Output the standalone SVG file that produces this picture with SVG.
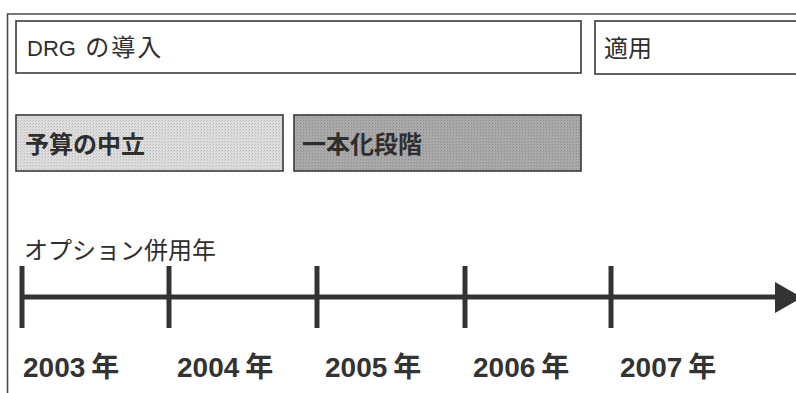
<svg xmlns="http://www.w3.org/2000/svg" width="796" height="393" viewBox="0 0 796 393">
<style>
  .frame { fill: none; stroke: #4a4a4a; stroke-width: 1.6; }
  .box { stroke: #3a3a3a; stroke-width: 1.6; }
  .lbl { font-family: "Liberation Sans", "Noto Sans CJK JP", sans-serif; fill: #2e2e2e; }
  .cjk { font-family: "Noto Sans CJK JP", sans-serif; }
  .year { font-family: "Liberation Sans", "Noto Sans CJK JP", sans-serif; font-weight: bold; font-size: 28px; fill: #333; }
  .axis { stroke: #333; stroke-width: 5; fill: none; }
</style>
<defs>
  <pattern id="dots1" width="3" height="3" patternUnits="userSpaceOnUse">
    <rect width="3" height="3" fill="#dedede"/>
    <rect width="1" height="1" fill="#b8b8b8"/>
    <rect x="2" y="1" width="1" height="1" fill="#c6c6c6"/>
  </pattern>
  <pattern id="dots2" width="3" height="3" patternUnits="userSpaceOnUse">
    <rect width="3" height="3" fill="#ababab"/>
    <rect width="1" height="1" fill="#8a8a8a"/>
    <rect x="2" y="1" width="1" height="1" fill="#9a9a9a"/>
  </pattern>
</defs>
<rect width="796" height="393" fill="#ffffff"/>
<path class="frame" d="M7.5,393 V14 H796"/>

<g id="drg">
  <rect class="box" x="16" y="21" width="565" height="52" fill="#ffffff"/>
  <text class="lbl" x="27" y="56" style="font-size:22px">DRG<tspan class="cjk" style="font-size:24px" letter-spacing="2" dx="2"> の導入</tspan></text>
</g>
<g id="tekiyou">
  <rect class="box" x="595" y="21" width="210" height="53" fill="#ffffff"/>
  <text class="lbl cjk" x="604" y="57" font-size="24">適用</text>
</g>
<g id="yosan">
  <rect class="box" x="16" y="115" width="267" height="56" fill="url(#dots1)"/>
  <text class="lbl cjk" x="25" y="153" font-size="24" font-weight="bold">予算の中立</text>
</g>
<g id="ippon">
  <rect class="box" x="294" y="115" width="287" height="56" fill="url(#dots2)"/>
  <text class="lbl cjk" x="302" y="153" font-size="24" font-weight="bold" fill="#333">一本化段階</text>
</g>

<g id="option">
  <text class="lbl cjk" x="24" y="259" font-size="24">オプション併用年</text>
</g>

<g id="connectors">
  <line class="axis" x1="22" y1="297" x2="778" y2="297"/>
  <polygon points="775,282 802,297.5 775,313" fill="#333"/>
  <line class="axis" x1="22" y1="266" x2="22" y2="328"/>
  <line class="axis" x1="169" y1="266" x2="169" y2="328"/>
  <line class="axis" x1="317" y1="266" x2="317" y2="328"/>
  <line class="axis" x1="465" y1="266" x2="465" y2="328"/>
  <line class="axis" x1="611" y1="266" x2="611" y2="328"/>
</g>

<g id="years">
  <text class="year" x="23" y="377">2003<tspan class="cjk" dx="6">年</tspan></text>
  <text class="year" x="177" y="377">2004<tspan class="cjk" dx="6">年</tspan></text>
  <text class="year" x="325" y="377">2005<tspan class="cjk" dx="6">年</tspan></text>
  <text class="year" x="473" y="377">2006<tspan class="cjk" dx="6">年</tspan></text>
  <text class="year" x="620" y="377">2007<tspan class="cjk" dx="6">年</tspan></text>
</g>
</svg>
